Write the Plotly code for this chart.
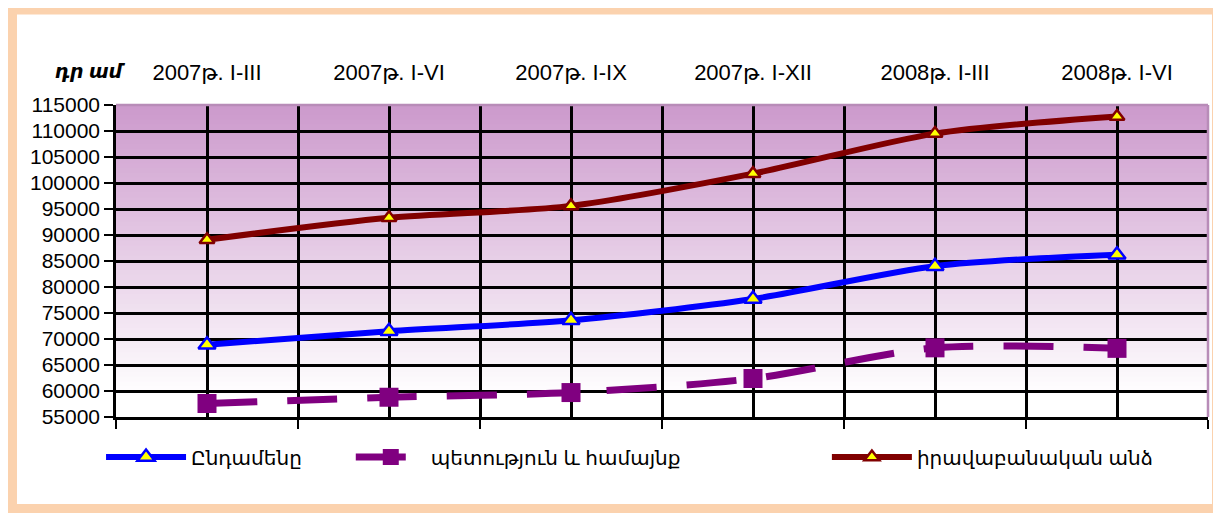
import plotly.graph_objects as go

# period labels (top axis) and values, thousand dram
periods = ["2007թ. I-III", "2007թ. I-VI", "2007թ. I-IX", "2007թ. I-XII", "2008թ. I-III", "2008թ. I-VI"]
total = [68900, 71500, 73600, 77700, 84000, 86200]
state_community = [57600, 58800, 59700, 62400, 68300, 68200]
legal_entities = [89100, 93300, 95600, 101800, 109500, 112800]

names = ["Ընդամենը", "պետություն և համայնք", "իրավաբանական անձ"]
y_ticks = list(range(55000, 115001, 5000))

pos = list(range(len(periods)))
FONT = "Arial, Liberation Sans, DejaVu Sans, sans-serif"

fig = go.Figure()

fig.add_trace(go.Scatter(
    x=pos, y=total, name=names[0], mode="lines+markers",
    line=dict(color="#0000FF", width=6, shape="spline", smoothing=0.8),
    marker=dict(symbol="triangle-up", size=15, color="#FFFF00",
                line=dict(color="#0000FF", width=2.5)),
    legend="legend",
))
fig.add_trace(go.Scatter(
    x=pos, y=state_community, name=names[1], mode="lines+markers",
    line=dict(color="#800080", width=7, shape="spline", smoothing=0.8, dash="50px,30px"),
    marker=dict(symbol="square", size=19, color="#800080", line=dict(width=0)),
    legend="legend2",
))
fig.add_trace(go.Scatter(
    x=pos, y=legal_entities, name=names[2], mode="lines+markers",
    xaxis="x2",
    line=dict(color="#800000", width=6, shape="spline", smoothing=0.8),
    marker=dict(symbol="triangle-up", size=13, color="#FFFF00",
                line=dict(color="#800000", width=2.5)),
    legend="legend3",
))

# gradient background of the plot area (purple at top fading to white)
top_rgb = (204, 153, 204)
n_bands = 60
y_lo, y_hi = 59000, 115000
step = (y_hi - y_lo) / n_bands
shapes = [dict(type="rect", xref="x domain", yref="y", x0=0, x1=1, y0=55000, y1=y_lo + step,
               fillcolor="white", line=dict(width=0), layer="below")]
for i in range(n_bands):
    t = (i + 0.5) / n_bands  # 0 bottom, 1 top
    r, g, b = (round(255 + (c - 255) * t) for c in top_rgb)
    shapes.append(dict(type="rect", xref="x domain", yref="y", x0=0, x1=1,
                       y0=y_lo + i * step, y1=min(y_lo + (i + 2) * step, y_hi),
                       fillcolor=f"rgb({r},{g},{b})", line=dict(width=0), layer="below"))
# plot area border (top / right)
shapes.append(dict(type="line", xref="x domain", yref="y domain", x0=0, x1=1, y0=1, y1=1,
                   line=dict(color="#B88CB8", width=2.5), layer="above"))
shapes.append(dict(type="line", xref="x domain", yref="y domain", x0=1, x1=1, y0=0, y1=1,
                   line=dict(color="#B88CB8", width=2.5), layer="above"))
# outer frame
shapes.append(dict(type="rect", xref="paper", yref="paper",
                   x0=-0.0948, x1=1.0078, y0=-0.2933, y1=1.3045,
                   line=dict(color="#FBD2AE", width=9), layer="above"))

# the page body adds an 8px offset, so the figure is sized to fit the window
fig.update_layout(
    width=1213, height=505,
    margin=dict(l=108, r=13, t=97, b=96, autoexpand=False),
    paper_bgcolor="white",
    plot_bgcolor="white",
    font=dict(family=FONT, size=20, color="black"),
    shapes=shapes,
    showlegend=True,
    xaxis=dict(
        range=[-0.5, 5.5], tick0=-0.5, dtick=1,
        ticks="outside", ticklen=9, tickwidth=2, tickcolor="black",
        showticklabels=False,
        showgrid=True, gridcolor="black", gridwidth=2.5,
        minor=dict(tick0=0, dtick=1, showgrid=True, gridcolor="black", gridwidth=2.5, ticks=""),
        showline=True, linecolor="black", linewidth=2.5,
        zeroline=False,
    ),
    xaxis2=dict(
        overlaying="x", side="top", anchor="y",
        range=[-0.5, 5.5], tickmode="array", tickvals=pos, ticktext=periods,
        ticks="", ticklabelstandoff=20, showgrid=False, showline=False, zeroline=False,
        tickfont=dict(size=22),
    ),
    yaxis=dict(
        range=[55000, 115000], tickmode="array", tickvals=y_ticks, tickformat="d",
        ticks="outside", ticklen=9, tickwidth=2, tickcolor="black",
        showgrid=True, gridcolor="black", gridwidth=2.5,
        showline=True, linecolor="black", linewidth=2.5,
        zeroline=False, tickfont=dict(size=21),
    ),
    legend=dict(orientation="h", x=-0.0137, y=-0.128, xanchor="left", yanchor="middle",
                itemwidth=80, font=dict(size=20), bgcolor="rgba(0,0,0,0)"),
    legend2=dict(orientation="h", x=0.215, y=-0.128, xanchor="left", yanchor="middle",
                 itemwidth=70, font=dict(size=20), bgcolor="rgba(0,0,0,0)"),
    legend3=dict(orientation="h", x=0.651, y=-0.128, xanchor="left", yanchor="middle",
                 itemwidth=80, font=dict(size=20), bgcolor="rgba(0,0,0,0)"),
    annotations=[dict(text="<b><i>դր ամ</i></b>", xref="paper", yref="paper",
                      x=-0.058, y=1.106, xanchor="left", yanchor="middle",
                      showarrow=False, font=dict(size=19))],
)

fig.write_html("out.html")
